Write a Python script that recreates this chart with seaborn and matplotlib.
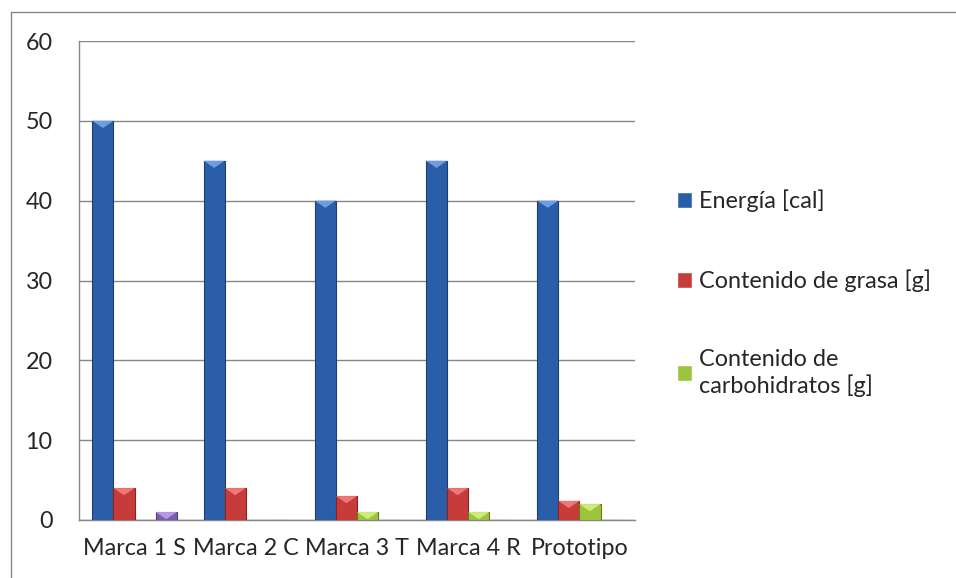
import matplotlib
matplotlib.use('Agg')
import matplotlib.pyplot as plt
from matplotlib.patches import Polygon
import seaborn as sns
import pandas as pd

# Datos
marcas = ['Marca 1 S', 'Marca 2 C', 'Marca 3 T', 'Marca 4 R', 'Prototipo']
series = ['Energía [cal]', 'Contenido de grasa [g]', 'Contenido de\ncarbohidratos [g]', 'Serie 4']
energia = [50, 45, 40, 45, 40]
grasa = [4, 4, 3, 4, 2.4]
carbohidratos = [0, 0, 1, 1, 2]
serie4 = [1, 0, 0, 0, 0]

colores = ['#2B5EA9', '#C83B3B', '#9DC53C', '#7D5DB4']
bordes = ['#1C3E73', '#8A2424', '#5F7F1E', '#503A80']
claros = ['#6F9BE0', '#EE7777', '#CDEB7A', '#B39AE0']

df = pd.DataFrame({
    'Marca': marcas * 4,
    'Serie': [s for s in series for _ in marcas],
    'Valor': energia + grasa + carbohidratos + serie4,
})

sns.set_style('white')
plt.rcParams['font.family'] = ['Lato', 'DejaVu Sans']
fs = 16.8

fig = plt.figure(figsize=(9.56, 5.78), dpi=100)
ax = fig.add_axes([79 / 956, 58 / 578, 556 / 956, 479 / 578])

sns.barplot(data=df, x='Marca', y='Valor', hue='Serie', palette=colores, saturation=1,
            width=0.76, gap=0, ax=ax, legend=True, zorder=3)

# bordes y efecto bisel
for cont, borde, claro in zip(ax.containers, bordes, claros):
    for bar in cont:
        bar.set_edgecolor(borde)
        bar.set_linewidth(0.8)
        h = bar.get_height()
        if h <= 0:
            continue
        x0, w = bar.get_x(), bar.get_width()
        d = min(0.9, h)
        tri = Polygon([(x0, h), (x0 + w, h), (x0 + w / 2, h - d)], closed=True,
                      facecolor=claro, edgecolor='none', zorder=4)
        ax.add_patch(tri)

ax.set_ylim(0, 60)
ax.set_xlim(-0.5, 4.5)
ax.set_yticks(range(0, 61, 10))
ax.set_xlabel('')
ax.set_ylabel('')

ax.yaxis.grid(True, color='#868686', linewidth=1)
ax.set_axisbelow(True)
for s in ['top', 'right']:
    ax.spines[s].set_visible(False)
for s in ['left', 'bottom']:
    ax.spines[s].set_color('#868686')
    ax.spines[s].set_linewidth(1)

ax.set_xticks([i - 0.5 for i in range(6)], minor=True)
ax.tick_params(axis='x', which='minor', length=6, color='#868686', width=1, direction='out')
ax.tick_params(axis='x', which='major', length=0, pad=13, labelsize=fs)
ax.tick_params(axis='y', length=6, color='#868686', width=1, direction='out', pad=13, labelsize=fs)

handles, labels = ax.get_legend_handles_labels()
ax.legend(handles[:3], labels[:3], loc='center left', bbox_to_anchor=(677 / 956, 0.493),
          bbox_transform=fig.transFigure, frameon=False, fontsize=fs,
          handlelength=0.65, handleheight=0.65, handletextpad=0.3, labelspacing=2.45,
          borderpad=0, borderaxespad=0)

# marco del grafico
fig.add_artist(plt.Line2D([11 / 956, 11 / 956], [0, 1 - 12 / 578], transform=fig.transFigure,
                          color='#878787', linewidth=1))
fig.add_artist(plt.Line2D([11 / 956, 1], [1 - 12 / 578, 1 - 12 / 578], transform=fig.transFigure,
                          color='#878787', linewidth=1))

fig.savefig('out.png', dpi=100)
